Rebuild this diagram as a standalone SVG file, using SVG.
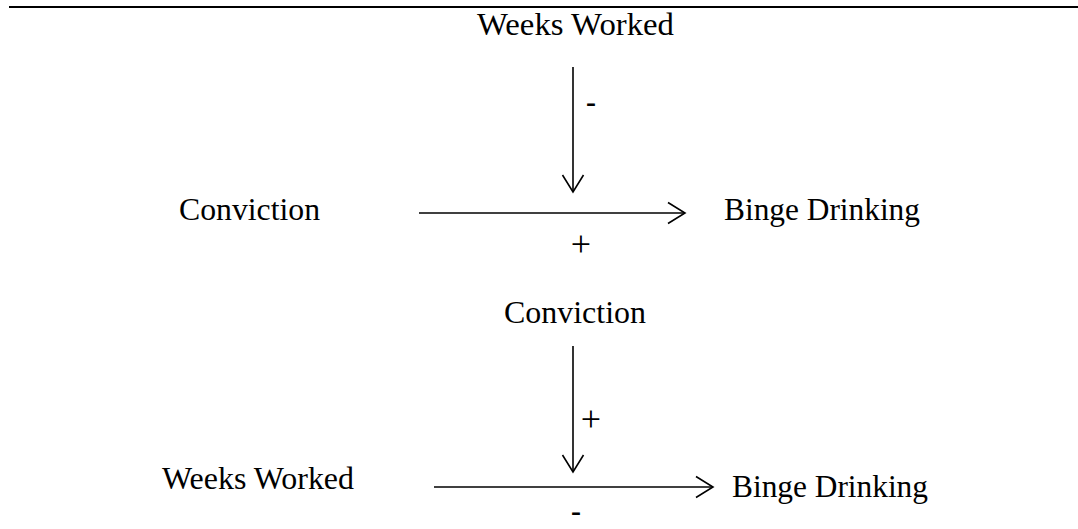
<svg xmlns="http://www.w3.org/2000/svg" width="1078" height="529" viewBox="0 0 1078 529">
<style>
.lbl{font-family:"Liberation Serif","Times New Roman",serif;font-size:31px;fill:#000}
.sgn{font-family:"Liberation Serif","Times New Roman",serif;fill:#000;text-anchor:middle}
.minus{font-size:30px;font-weight:bold}
.plus{font-size:36px}
.ln{stroke:#000;stroke-width:1.6;fill:none}
</style>
<defs>
<marker id="ah" markerUnits="userSpaceOnUse" markerWidth="24" markerHeight="24" viewBox="-20 -12 24 24" refX="0" refY="0" orient="auto">
<path d="M-17,-10.5 L0,0 L-17,10.5" fill="none" stroke="#000" stroke-width="1.6"/>
</marker>
</defs>
<rect width="1078" height="529" fill="#fff"/>
<line x1="9" y1="7" x2="1078" y2="7" stroke="#000" stroke-width="2.2"/>
<g id="n-weeks-top"><text class="lbl" x="477" y="35" textLength="197" lengthAdjust="spacingAndGlyphs">Weeks Worked</text></g>
<g id="n-conviction-mid"><text class="lbl" x="179" y="220" textLength="141" lengthAdjust="spacingAndGlyphs">Conviction</text></g>
<g id="n-binge-mid"><text class="lbl" x="724" y="220" textLength="196" lengthAdjust="spacingAndGlyphs">Binge Drinking</text></g>
<g id="n-conviction-low"><text class="lbl" x="504" y="323" textLength="142" lengthAdjust="spacingAndGlyphs">Conviction</text></g>
<g id="n-weeks-bottom"><text class="lbl" x="162" y="489" textLength="192" lengthAdjust="spacingAndGlyphs">Weeks Worked</text></g>
<g id="n-binge-bottom"><text class="lbl" x="732" y="497" textLength="196" lengthAdjust="spacingAndGlyphs">Binge Drinking</text></g>
<g id="connectors">
<line class="ln" x1="573" y1="67" x2="573" y2="192" marker-end="url(#ah)"/>
<line class="ln" x1="419" y1="213" x2="685" y2="213" marker-end="url(#ah)"/>
<line class="ln" x1="573" y1="346" x2="573" y2="472" marker-end="url(#ah)"/>
<line class="ln" x1="434" y1="487" x2="713" y2="487" marker-end="url(#ah)"/>
<text class="sgn minus" x="591" y="112">-</text>
<text class="sgn plus" x="581" y="256">+</text>
<text class="sgn plus" x="591" y="431">+</text>
<text class="sgn minus" x="576" y="521">-</text>
</g>
</svg>
